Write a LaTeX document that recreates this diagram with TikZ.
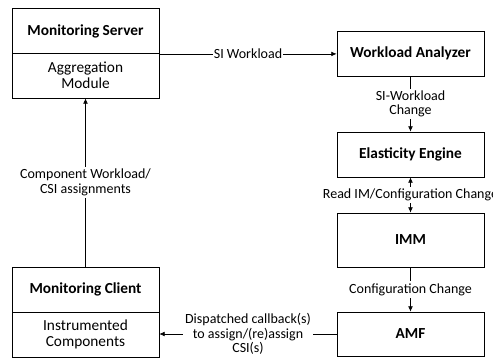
\documentclass[tikz,border=0pt]{standalone}
\usepackage{fontspec}
\setmainfont{Carlito}
\usetikzlibrary{arrows.meta}
\begin{document}
\begin{tikzpicture}[x=0.75pt,y=-0.75pt,>={Latex[length=4pt,width=3.5pt]},
  box/.style={draw,line width=0.6pt,minimum width=110.25pt,minimum height=33.75pt,
    align=center,inner sep=0pt,font=\fontsize{11.5}{11.8}\selectfont},
  title/.style={box,font=\fontsize{11.5}{11.8}\selectfont\bfseries},
  lbl/.style={fill=white,inner sep=1.5pt,align=center,font=\fontsize{10.5}{11}\selectfont}]
  \useasboundingbox (0,0) rectangle (493,358);
  % left column
  \node[title] (srv) at (85.5,31) {Monitoring Server};
  \node[box] (agg) at (85.5,75.5) {Aggregation\\Module};
  \node[title] (mc) at (85.5,289.5) {Monitoring Client};
  \node[box] (inst) at (85.5,334.5) {Instrumented\\Components};
  % right column
  \node[title] (wa) at (410.5,53.5) {Workload Analyzer};
  \node[title] (ee) at (410.5,154.5) {Elasticity Engine};
  \node[title,minimum height=40.5pt] (imm) at (410.5,240) {IMM};
  \node[title,minimum height=33pt] (amf) at (410.5,334) {AMF};
  % connectors
  \draw[->] (srv.south east) -- node[lbl,inner sep=0.3pt] {SI Workload} (wa.west |- srv.south east);
  \draw[->] (wa) -- node[lbl] {SI-Workload\\Change} (ee);
  \draw[<->] (ee) -- node[lbl] {Read IM/Configuration Change} (imm);
  \draw[->] (imm) -- node[lbl] {Configuration Change} (amf);
  \draw[->] (amf.west) -- node[lbl] {Dispatched callback(s)\\to assign/(re)assign\\CSI(s)} (amf.west -| inst.east);
  \draw[->] (mc) -- node[lbl] {Component Workload/\\CSI assignments} (agg);
\end{tikzpicture}
\end{document}
